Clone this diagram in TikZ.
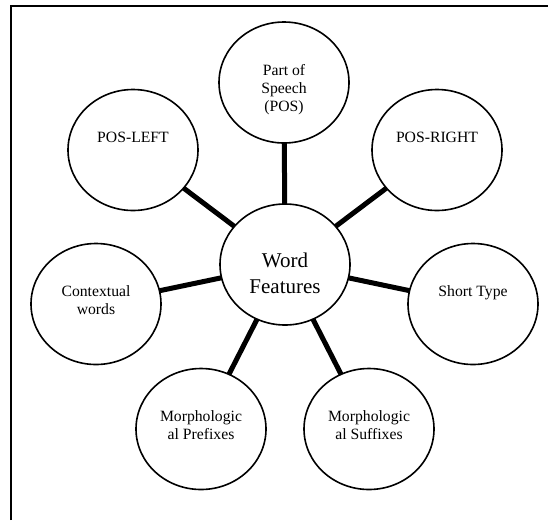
\documentclass[tikz,border=0pt]{standalone}
\usepackage{fontspec}
\setmainfont{Liberation Serif}
\usetikzlibrary{shapes.geometric,backgrounds}
\newcommand{\bublbl}[1]{\parbox[c][40pt][t]{90pt}{\centering\fontsize{15.7}{18}\selectfont\strut #1\vss}}
\newcommand{\hublbl}[1]{\parbox[c][65pt][b]{90pt}{\centering\fontsize{21}{26}\selectfont\strut #1\strut}}
\tikzset{
  bubble/.style={ellipse, draw, line width=1.6pt, fill=white,
    minimum width=130pt, minimum height=121pt, inner sep=0pt},
  link/.style={line width=5pt},
  frameline/.style={line width=2.2pt}
}
\begin{document}
\begin{tikzpicture}[x=1pt,y=-1pt]
\useasboundingbox (0,0) rectangle (548,520);
\draw[frameline] (11,520) -- (11,6) -- (548,6);

\node[bubble] (wf)   at (285,264.5) {\hublbl{Word\\Features}};
\node[bubble] (pos)  at (284,82.5)  {\bublbl{Part of\\Speech\\(POS)}};
\node[bubble] (posl) at (133,150)   {\bublbl{POS-LEFT}};
\node[bubble] (posr) at (437,150)   {\bublbl{POS-RIGHT}};
\node[bubble] (ctx)  at (96,304)    {\bublbl{Contextual\\words}};
\node[bubble] (st)   at (473,304)   {\bublbl{Short Type}};
\node[bubble] (mpre) at (201,429)   {\bublbl{Morphologic\\al Prefixes}};
\node[bubble] (msuf) at (369,429)   {\bublbl{Morphologic\\al Suffixes}};

\begin{scope}[on background layer]
\draw[link] (wf.center) -- (pos.center);
\draw[link] (wf.center) -- (posl.center);
\draw[link] (wf.center) -- (posr.center);
\draw[link] (wf.center) -- (ctx.center);
\draw[link] (wf.center) -- (st.center);
\draw[link] (wf.center) -- (mpre.center);
\draw[link] (wf.center) -- (msuf.center);
\end{scope}
\end{tikzpicture}
\end{document}
